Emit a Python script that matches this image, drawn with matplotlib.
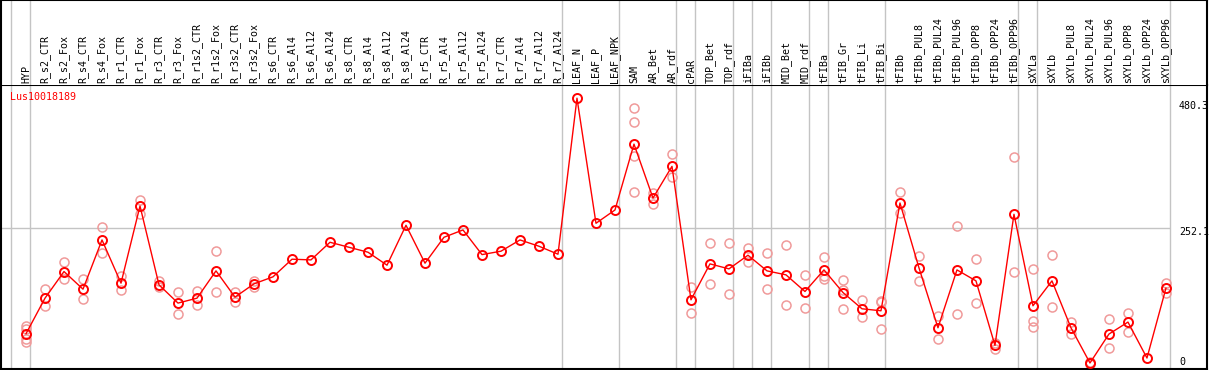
import matplotlib
matplotlib.use("Agg")
import matplotlib.pyplot as plt
import matplotlib.transforms as mtransforms

categories = ["HYP", "R_s2_CTR", "R_s2_Fox", "R_s4_CTR", "R_s4_Fox", "R_r1_CTR", "R_r1_Fox",
              "R_r3_CTR", "R_r3_Fox", "R_r1s2_CTR", "R_r1s2_Fox", "R_r3s2_CTR", "R_r3s2_Fox",
              "R_s6_CTR", "R_s6_Al4", "R_s6_Al12", "R_s6_Al24", "R_s8_CTR", "R_s8_Al4",
              "R_s8_Al12", "R_s8_Al24", "R_r5_CTR", "R_r5_Al4", "R_r5_Al12", "R_r5_Al24",
              "R_r7_CTR", "R_r7_Al4", "R_r7_Al12", "R_r7_Al24", "LEAF_N", "LEAF_P", "LEAF_NPK",
              "SAM", "AR_Bet", "AR_rdf", "cPAR", "TOP_Bet", "TOP_rdf", "iFIBa", "iFIBb",
              "MID_Bet", "MID_rdf", "tFIBa", "tFIB_Gr", "tFIB_Li", "tFIB_Bi", "tFIBb",
              "tFIBb_PUL8", "tFIBb_PUL24", "tFIBb_PUL96", "tFIBb_OPP8", "tFIBb_OPP24",
              "tFIBb_OPP96", "sXYLa", "sXYLb", "sXYLb_PUL8", "sXYLb_PUL24", "sXYLb_PUL96",
              "sXYLb_OPP8", "sXYLb_OPP24", "sXYLb_OPP96"]

means = [66, 128.6, 175.4, 144.4, 231.0, 155.0, 290.7, 152.0, 119.9, 128.6,
         176.6, 130.4, 153.8, 166.1, 197.1, 195.9, 226.9, 218.1, 209.4, 186.6,
         256.8, 190.1, 235.7, 248.6, 205.2, 211.2, 231.0, 219.9, 205.9,
         480.3, 260.3, 283.7, 399.5, 304.7, 360.4, 125.7, 188.9, 180.1, 204.1, 176.6,
         169.6, 140.3, 178.3, 138.5, 109.9, 106.4, 296.0, 181.9, 76.5, 178.3, 159.0,
         45.5, 276.1, 115.2, 159.0, 76.5, 14.6, 65.5, 86.5, 23.3, 146.2]

replicates = [
    [79, 74, 56, 51], [144, 114], [192, 162], [162, 127], [253, 208], [168, 143],
    [302, 277], [158, 148], [139, 101], [141, 116], [211, 140], [140, 121], [158, 149],
    [], [], [], [], [], [], [], [], [], [], [], [], [], [], [], [], [], [], [],
    [463, 439, 378, 316], [313, 295], [382, 341], [149, 103], [226, 154], [226, 136],
    [217, 192], [208, 145], [222, 117], [170, 111], [201, 167, 162], [161, 143, 110],
    [126, 95], [123, 121, 75], [315, 278], [203, 159], [97, 57], [255, 101], [197, 120],
    [50, 39], [376, 174], [180, 89, 77], [205, 113], [87, 65], [16, 13], [92, 41],
    [103, 69], [], [156, 137]]

group_ends = [-1, 0, 28, 31, 34, 35, 37, 38, 39, 41, 42, 45, 52, 53, 60]
yticks = [0, 252.1, 480.3]
gene = "Lus10018189"

W, H = 1209, 370
fig = plt.figure(figsize=(W / 100, H / 100), dpi=100)
left, right = 1 / W, 1207 / W
ax = fig.add_axes([left, 1 / H, right - left, 284 / H])
axh = fig.add_axes([left, 285 / H, right - left, 85 / H], sharex=ax)

xlim = (-1.316, 62.16)
ax.set_xlim(*xlim)
ax.set_ylim(4.0, 503.5)
axh.set_ylim(0, 1)

grid_c = "#c4c4c4"
for g in group_ends:
    xb = g + 0.21
    ax.axvline(xb, color=grid_c, lw=1.0, zorder=1)
    axh.axvline(xb, color=grid_c, lw=1.0, zorder=1)
ax.hlines(yticks[1], xlim[0], group_ends[-1] + 0.21, color=grid_c, lw=1.0, zorder=1)

# replicates
rx, ry = [], []
for i, reps in enumerate(replicates):
    for r in reps:
        rx.append(i)
        ry.append(r)
ax.plot(rx, ry, ls="none", marker="o", ms=6.5, mfc="none", mec="#f09a9a", mew=1.1, zorder=2)

# means
xs = list(range(len(categories)))
ax.plot(xs, means, color="#ff0000", lw=1.0, marker="o", ms=6.5, mfc="none",
        mec="#ff0000", mew=1.4, zorder=3)

mono = "DejaVu Sans Mono"
trans_h = mtransforms.blended_transform_factory(axh.transData, axh.transAxes)
for i, c in enumerate(categories):
    axh.text(i, 0.02, c, rotation=90, ha="center", va="bottom", fontsize=7.2,
             family=mono, color="black", transform=trans_h)

ax.text(0.0075, 0.975, gene, transform=ax.transAxes, ha="left", va="top",
        fontsize=7.2, family=mono, color="#ff0000")

trans_y = mtransforms.blended_transform_factory(ax.transAxes, ax.transData)
offsets = [9, -4, -8]
for v, off in zip(yticks, offsets):
    lab = ("%g" % v)
    ax.annotate(lab, xy=(1, v), xycoords=trans_y, xytext=(-28, off),
                textcoords="offset pixels", ha="left", va="center",
                fontsize=7.2, family=mono, color="black")

for a in (ax, axh):
    a.set_xticks([])
    a.set_yticks([])
    for s in a.spines.values():
        s.set_linewidth(1.5)
        s.set_color("black")
axh.spines["bottom"].set_visible(False)

fig.savefig("out.png", dpi=100)
